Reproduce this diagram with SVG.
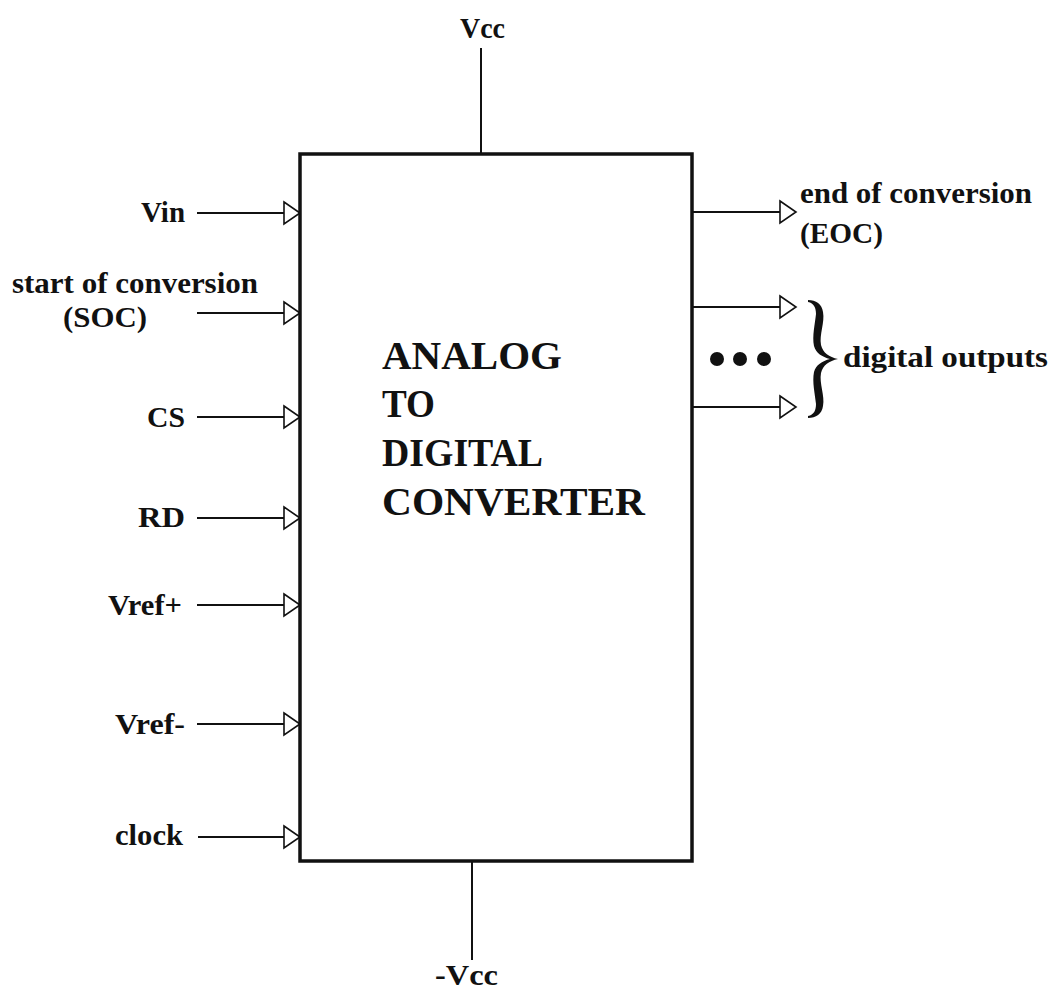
<svg xmlns="http://www.w3.org/2000/svg" width="1051" height="996" viewBox="0 0 1051 996">
<defs>
<style>
.lbl{font-family:'Liberation Serif','Tinos','Times New Roman',Times,serif;font-weight:700;font-size:30px;fill:#111;}
.big{font-family:'Liberation Serif','Tinos','Times New Roman',Times,serif;font-weight:700;font-size:41px;fill:#111;}
.wire{stroke:#111;stroke-width:2;fill:none;}
.tri{stroke:#111;stroke-width:1.6;fill:#fff;}
</style>
</defs>
<rect width="1051" height="996" fill="#fff"/>
<g id="connectors">
<line class="wire" x1="481" y1="48" x2="481" y2="154"/>
<line class="wire" x1="472" y1="861" x2="472" y2="960"/>
<line class="wire" x1="197" y1="213" x2="284" y2="213"/><polygon class="tri" points="284,202 300,213 284,224"/>
<line class="wire" x1="197" y1="313" x2="284" y2="313"/><polygon class="tri" points="284,302 300,313 284,324"/>
<line class="wire" x1="197" y1="417" x2="284" y2="417"/><polygon class="tri" points="284,406 300,417 284,428"/>
<line class="wire" x1="197" y1="518" x2="284" y2="518"/><polygon class="tri" points="284,507 300,518 284,529"/>
<line class="wire" x1="197" y1="605" x2="284" y2="605"/><polygon class="tri" points="284,594 300,605 284,616"/>
<line class="wire" x1="197" y1="724" x2="284" y2="724"/><polygon class="tri" points="284,713 300,724 284,735"/>
<line class="wire" x1="198" y1="837" x2="284" y2="837"/><polygon class="tri" points="284,826 300,837 284,848"/>
<line class="wire" x1="692" y1="212" x2="780" y2="212"/><polygon class="tri" points="780,201 796,212 780,223"/>
<line class="wire" x1="692" y1="307" x2="780" y2="307"/><polygon class="tri" points="780,296 796,307 780,318"/>
<line class="wire" x1="692" y1="407" x2="780" y2="407"/><polygon class="tri" points="780,396 796,407 780,418"/>
</g>
<g id="adc">
<rect x="300" y="154" width="392" height="707" fill="#fff" stroke="#111" stroke-width="3.5"/>
<text class="big" x="382" y="369" textLength="180" lengthAdjust="spacingAndGlyphs">ANALOG</text>
<text class="big" x="382" y="417" textLength="53" lengthAdjust="spacingAndGlyphs">TO</text>
<text class="big" x="382" y="466" textLength="161" lengthAdjust="spacingAndGlyphs">DIGITAL</text>
<text class="big" x="382" y="515" textLength="263" lengthAdjust="spacingAndGlyphs">CONVERTER</text>
</g>
<g id="vcc"><text class="lbl" x="460" y="38" textLength="45" lengthAdjust="spacingAndGlyphs">Vcc</text></g>
<g id="nvcc"><text class="lbl" x="435" y="985" textLength="63" lengthAdjust="spacingAndGlyphs">-Vcc</text></g>
<g id="vin"><text class="lbl" x="141" y="222" textLength="44" lengthAdjust="spacingAndGlyphs">Vin</text></g>
<g id="soc">
<text class="lbl" x="12" y="293" textLength="246" lengthAdjust="spacingAndGlyphs">start of conversion</text>
<text class="lbl" x="63" y="327" textLength="84" lengthAdjust="spacingAndGlyphs">(SOC)</text>
</g>
<g id="cs"><text class="lbl" x="147" y="427" textLength="38" lengthAdjust="spacingAndGlyphs">CS</text></g>
<g id="rd"><text class="lbl" x="138" y="527" textLength="47" lengthAdjust="spacingAndGlyphs">RD</text></g>
<g id="vrefp"><text class="lbl" x="108" y="615" textLength="74" lengthAdjust="spacingAndGlyphs">Vref+</text></g>
<g id="vrefm"><text class="lbl" x="115" y="734" textLength="70" lengthAdjust="spacingAndGlyphs">Vref-</text></g>
<g id="clock"><text class="lbl" x="115" y="845" textLength="68" lengthAdjust="spacingAndGlyphs">clock</text></g>
<g id="eoc">
<text class="lbl" x="800" y="203" textLength="232" lengthAdjust="spacingAndGlyphs">end of conversion</text>
<text class="lbl" x="800" y="243" textLength="83" lengthAdjust="spacingAndGlyphs">(EOC)</text>
</g>
<g id="outputs">
<circle cx="717" cy="359" r="7" fill="#111"/>
<circle cx="740" cy="359" r="7" fill="#111"/>
<circle cx="764" cy="359" r="7" fill="#111"/>
<path d="M808,300 C816,300 822,304 823,312 C825,322 819,335 821,345 C823,353 829,357 838,359 C829,361 823,365 821,373 C819,383 825,396 823,406 C822,414 816,418 808,418 L808,416 C814,415 816,410 816,404 C815,394 812,382 814,372 C816,365 822,361 830,359 C822,357 816,353 814,346 C812,336 815,324 816,314 C816,308 814,303 808,302 Z" fill="#111"/>
<text class="lbl" x="843" y="367" textLength="205" lengthAdjust="spacingAndGlyphs">digital outputs</text>
</g>
</svg>
